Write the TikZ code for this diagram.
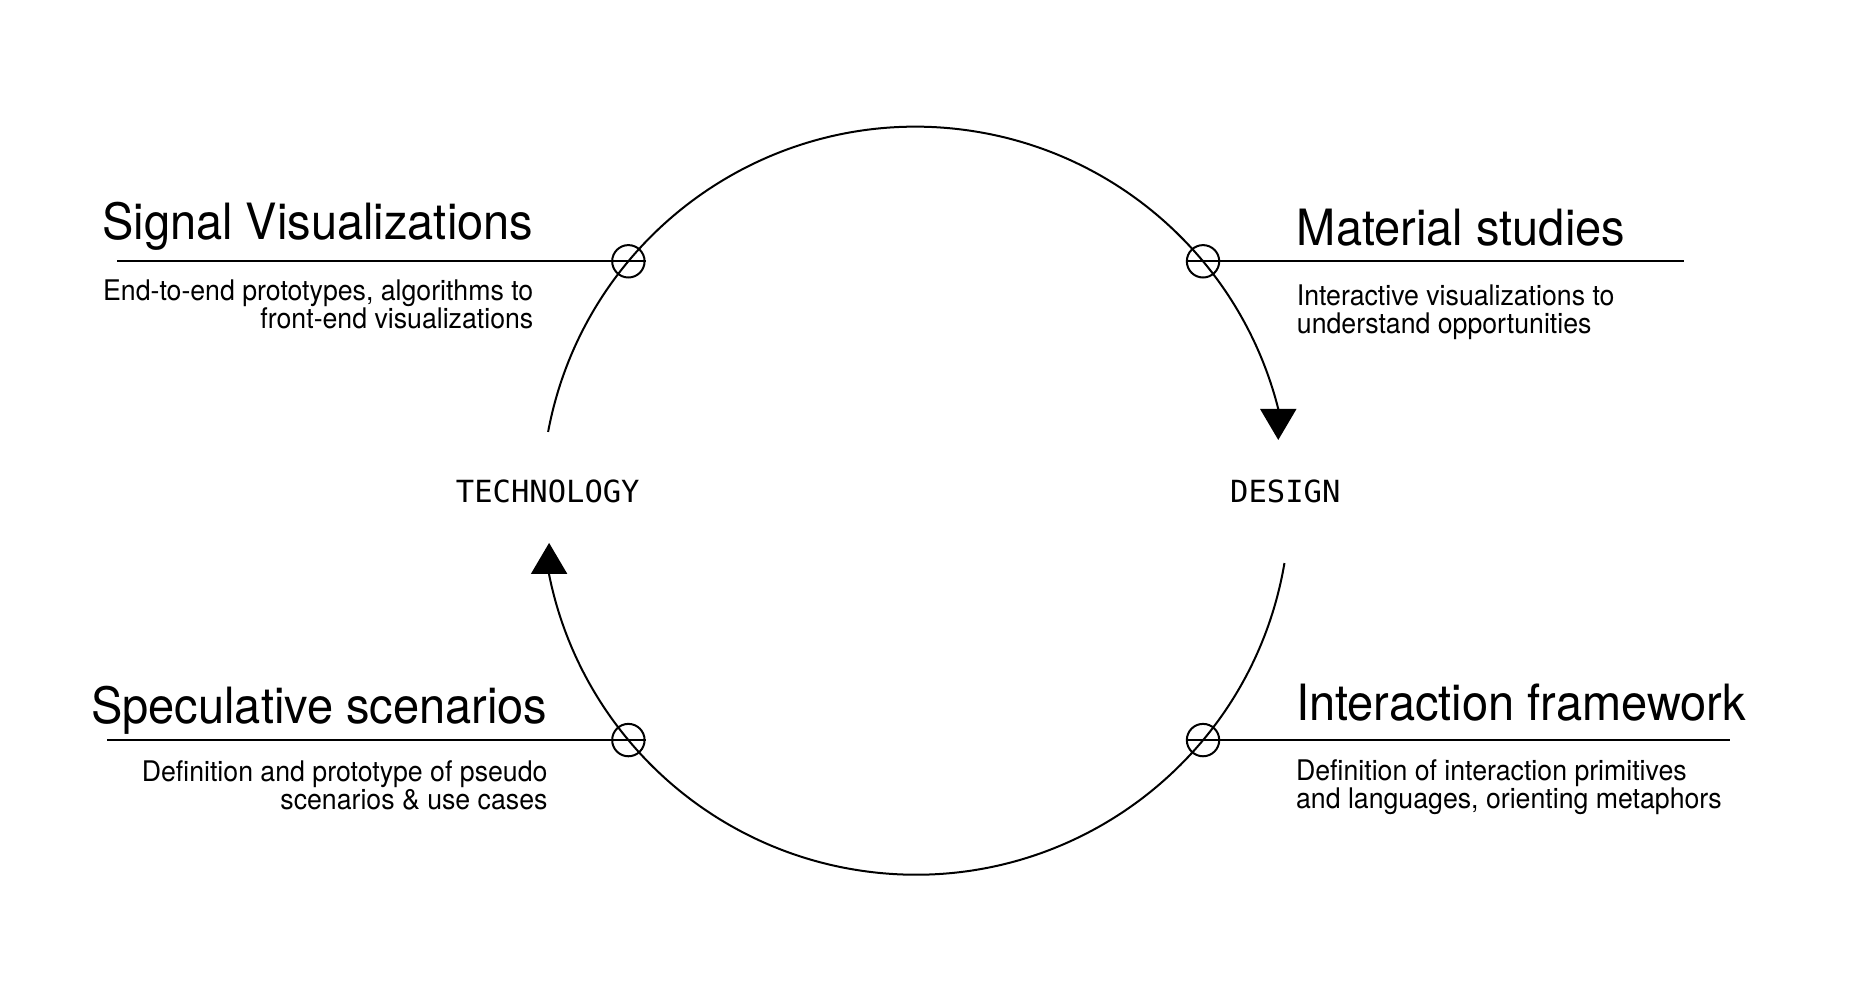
\documentclass[tikz,border=0pt]{standalone}
\usepackage{fontspec}
\setmainfont{TeX Gyre Heros}
\newfontfamily\headfont[FakeStretch=0.94]{TeX Gyre Heros}
\newfontfamily\phasefont{DejaVu Sans Mono}
\usetikzlibrary{positioning,arrows.meta,calc}
\tikzset{
  titletext/.style={inner sep=0pt, font=\headfont\fontsize{50}{56}\selectfont},
  notetext/.style={inner sep=0pt, font=\headfont\fontsize{28.4}{28}\selectfont},
  phaselabel/.style={inner sep=0pt, font=\phasefont\fontsize{30.5}{34}\selectfont},
  markring/.style={draw, circle, line width=2pt, minimum size=32.4pt, inner sep=0pt},
  leadline/.style={line width=1.8pt},
  cyclearrow/.style={line width=2pt, -{Triangle[length=31pt,width=36pt]}}
}

\begin{document}
\begin{tikzpicture}[x=1pt,y=1pt]
  \useasboundingbox (0,0) rectangle (1866,988);
  \coordinate (hub) at (915.7,487.3);
  % the loop between the two phases
  \draw[cyclearrow] ($(hub)+(169.4:374pt)$) arc[start angle=169.4, end angle=14.2, radius=374pt] -- ++(0,-31);
  \draw[cyclearrow] ($(hub)+(-9.6:374pt)$) arc[start angle=-9.6, end angle=-168.6, radius=374pt] -- ++(0,31.7);
  \node[phaselabel, anchor=base] (tech) at (547.8,485.3) {TECHNOLOGY};
  \node[phaselabel, anchor=base] (design) at (1285.3,485.3) {DESIGN};
  % rings on the loop
  \node[markring] (ringsv) at ($(hub)+(140.2:374pt)$) {};
  \node[markring] (ringms) at ($(hub)+(39.8:374pt)$) {};
  \node[markring] (ringss) at ($(hub)+(219.8:374pt)$) {};
  \node[markring] (ringif) at ($(hub)+(-39.8:374pt)$) {};
  \coordinate[left=494.5pt of ringsv] (svend);
  \coordinate[right=464.2pt of ringms] (msend);
  \coordinate[left=504.1pt of ringss] (ssend);
  \coordinate[right=509.4pt of ringif] (ifend);
  \draw[leadline] (ringsv.east) -- (svend);
  \draw[leadline] (ringms.west) -- (msend);
  \draw[leadline] (ringss.east) -- (ssend);
  \draw[leadline] (ringif.west) -- (ifend);
  % texts
  \node[titletext, anchor=base east] (svtitle) at (533.5,748) {Signal Visualizations};
  \node[notetext, anchor=base east, align=right] (svnote) at (533.5,659.8) {End-to-end prototypes, algorithms to\\front-end visualizations};
  \node[titletext, anchor=base west] (mstitle) at (1296.7,742.5) {Material studies};
  \node[notetext, anchor=base west, align=left] (msnote) at (1296.7,654.7) {Interactive visualizations to\\understand opportunities};
  \node[titletext, anchor=base east] (sstitle) at (547.7,264) {Speculative scenarios};
  \node[notetext, anchor=base east, align=right] (ssnote) at (547.7,178.7) {Definition and prototype of pseudo\\scenarios \& use cases};
  \node[titletext, anchor=base west] (iftitle) at (1295.9,267.5) {Interaction framework};
  \node[notetext, anchor=base west, align=left] (ifnote) at (1295.9,179.6) {Definition of interaction primitives\\and languages, orienting metaphors};
\end{tikzpicture}
\end{document}
